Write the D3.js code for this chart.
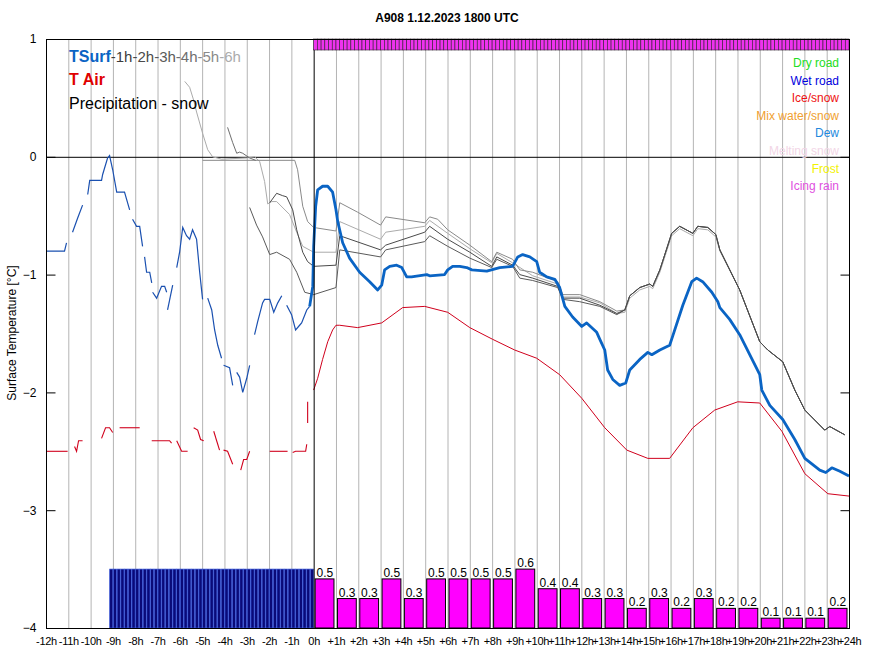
<!DOCTYPE html>
<html><head><meta charset="utf-8">
<script src="https://cdn.jsdelivr.net/npm/d3@7"></script>
<style>
body{margin:0;background:#fff}
svg{display:block}
text{font-family:"Liberation Sans",Arial,Helvetica,sans-serif}
</style>
</head><body>
<svg id="chart" width="871" height="654"></svg>
<script>
// ---------- DATA ----------
const title = "A908 1.12.2023 1800 UTC";
const yTitle = "Surface Temperature [°C]";
const tickHours = [-12,-11,-10,-9,-8,-7,-6,-5,-4,-3,-2,-1,0,1,2,3,4,5,6,7,8,9,10,11,12,13,14,15,16,17,18,19,20,21,22,23,24];
const tickLabels = ["-12h","-11h","-10h","-9h","-8h","-7h","-6h","-5h","-4h","-3h","-2h","-1h","0h","+1h","+2h","+3h","+4h","+5h","+6h","+7h","+8h","+9h","+10h","+11h","+12h","+13h","+14h","+15h","+16h","+17h","+18h","+19h","+20h","+21h","+22h","+23h","+24h"];
const yTicks = [1,0,-1,-2,-3,-4];

// measured surface temperature (segments separated by gaps) [hour, °C]
const tsurfPast = [
 [[-12,-0.80],[-11.17,-0.80],[-11.08,-0.73]],
 [[-10.81,-0.64],[-10.58,-0.52],[-10.36,-0.41]],
 [[-10.13,-0.32],[-10.04,-0.20],[-9.51,-0.20],[-9.46,-0.15],[-9.24,-0.01],[-9.15,0.01],[-9.01,-0.11],[-8.83,-0.30],[-8.48,-0.30],[-8.25,-0.45]],
 [[-8.12,-0.53],[-7.94,-0.59],[-7.80,-0.59],[-7.67,-0.76]],
 [[-7.58,-0.85],[-7.49,-0.98],[-7.35,-0.98],[-7.26,-1.07]],
 [[-7.22,-1.15],[-7.04,-1.20],[-6.82,-1.10],[-6.68,-1.10],[-6.59,-1.15]],
 [[-6.55,-1.30],[-6.32,-1.09]],
 [[-6.14,-0.94],[-6.01,-0.81],[-5.87,-0.60],[-5.70,-0.67],[-5.56,-0.70],[-5.43,-0.62],[-5.25,-0.70],[-5.11,-0.98],[-4.98,-1.21]],
 [[-4.75,-1.20],[-4.57,-1.30],[-4.44,-1.47],[-4.30,-1.60],[-4.13,-1.71]],
 [[-4.04,-1.77],[-3.77,-1.79],[-3.63,-1.94]],
 [[-3.45,-1.83],[-3.32,-1.87],[-3.18,-2.00],[-3.00,-1.88],[-2.87,-1.77]],
 [[-2.65,-1.51],[-2.51,-1.40],[-2.29,-1.24],[-2.20,-1.21],[-1.97,-1.21],[-1.79,-1.32],[-1.61,-1.24],[-1.43,-1.18]],
 [[-1.21,-1.26],[-0.99,-1.34],[-0.81,-1.47],[-0.63,-1.43],[-0.54,-1.41],[-0.31,-1.30],[-0.18,-1.27]]
];

// forecast surface temperature
const tsurfFuture = [[-0.18,-1.27],[-0.04,-1.10],[0,-0.76],[0.09,-0.42],[0.18,-0.28],[0.40,-0.25],[0.63,-0.25],[0.85,-0.30],[1.0,-0.45],[1.08,-0.55],[1.30,-0.73],[1.61,-0.86],[2.06,-0.98],[2.51,-1.06],[2.87,-1.13],[3.05,-1.09],[3.18,-0.96],[3.41,-0.93],[3.72,-0.92],[3.95,-0.94],[4.17,-1.02],[4.39,-1.02],[5.07,-1.00],[5.20,-1.01],[5.87,-1.00],[6.01,-0.96],[6.23,-0.93],[6.55,-0.93],[6.86,-0.94],[7.09,-0.96],[7.76,-0.97],[8.34,-0.94],[8.92,-0.93],[9.15,-0.85],[9.37,-0.83],[9.69,-0.85],[10.0,-0.89],[10.13,-0.98],[10.45,-1.02],[10.81,-1.04],[11.03,-1.11],[11.26,-1.27],[11.61,-1.36],[12.02,-1.44],[12.24,-1.41],[12.69,-1.49],[12.83,-1.55],[13.05,-1.64],[13.18,-1.81],[13.41,-1.89],[13.72,-1.94],[13.99,-1.92],[14.17,-1.81],[14.62,-1.72],[14.98,-1.66],[15.16,-1.68],[15.52,-1.64],[15.96,-1.60],[16.10,-1.52],[16.55,-1.26],[16.95,-1.06],[17.17,-1.03],[17.44,-1.06],[17.85,-1.15],[18.12,-1.23],[18.21,-1.28],[18.65,-1.38],[19.10,-1.51],[19.55,-1.68],[20.0,-1.85],[20.09,-1.98],[20.45,-2.11],[21.03,-2.23],[21.57,-2.40],[22.02,-2.56],[22.69,-2.66],[22.96,-2.68],[23.23,-2.64],[23.59,-2.67],[24,-2.71]];

// measured air temperature (segments)
const airPast = [
 [[-12,-2.50],[-11.03,-2.50]],
 [[-10.72,-2.46],[-10.63,-2.50],[-10.54,-2.41],[-10.36,-2.41]],
 [[-9.51,-2.39],[-9.33,-2.30],[-9.15,-2.30],[-9.01,-2.34]],
 [[-8.70,-2.30],[-7.80,-2.30]],
 [[-7.26,-2.41],[-6.46,-2.41],[-6.37,-2.43]],
 [[-6.14,-2.41],[-5.92,-2.50],[-5.65,-2.50]],
 [[-5.38,-2.30],[-5.20,-2.32],[-5.07,-2.40],[-4.93,-2.41]],
 [[-4.48,-2.33],[-4.22,-2.49]],
 [[-4.04,-2.49],[-3.86,-2.50],[-3.63,-2.61]],
 [[-3.27,-2.66],[-3.14,-2.57],[-3.00,-2.57],[-2.87,-2.50]],
 [[-1.97,-2.50],[-1.17,-2.50]],
 [[-0.94,-2.51],[-0.81,-2.50],[-0.36,-2.50],[-0.31,-2.44]],
 [[-0.27,-2.26],[-0.27,-2.08]]
];

// forecast air temperature
const airFuture = [[0,-1.98],[0.18,-1.88],[0.40,-1.72],[0.63,-1.57],[0.85,-1.47],[1.0,-1.43],[1.17,-1.43],[1.97,-1.45],[3.05,-1.41],[3.99,-1.28],[4.98,-1.27],[6.01,-1.32],[7.0,-1.45],[8.03,-1.55],[9.01,-1.64],[10.0,-1.71],[11.03,-1.85],[12.02,-2.05],[13.05,-2.30],[14.04,-2.49],[14.98,-2.56],[15.96,-2.56],[17.0,-2.30],[17.98,-2.15],[19.01,-2.08],[20.0,-2.09],[20.99,-2.33],[22.02,-2.69],[23.05,-2.86],[24,-2.88]];

// earlier forecast runs of surface temperature
const run6h = [[-5.78,0.64],[-5.56,0.59],[-5.38,0.48],[-5.25,0.38],[-4.98,0.20],[-4.75,0.06],[-4.53,0],[-4.13,-0.02],[-3.0,-0.01],[-2.65,0],[-2.42,-0.04],[-2.2,-0.21],[-2.06,-0.40],[-1.88,-0.38],[-1.66,-0.38],[-1.08,-0.49],[-0.76,-0.64],[-0.49,-0.76],[0,-0.81],[1,-0.81],[1.17,-0.55],[3,-0.70],[3.23,-0.64],[4.98,-0.59],[5.2,-0.54],[6.01,-0.65],[7,-0.78],[7.98,-0.90],[8.21,-0.82],[8.92,-0.90],[9.82,-1.01],[10.94,-1.08],[11.17,-1.19],[11.93,-1.19],[12.83,-1.24],[13.59,-1.33]];
const run5h = [[-4.98,-0.03],[-0.85,-0.03],[-0.72,-0.11],[-0.49,-0.42],[-0.27,-0.55],[0,-0.60],[1,-0.63],[1.17,-0.39],[1.97,-0.47],[3,-0.58],[3.23,-0.51],[4.98,-0.56],[5.2,-0.51],[5.56,-0.53],[6.01,-0.62],[7,-0.75],[7.98,-0.89],[8.21,-0.81],[8.92,-0.87],[9.24,-0.96],[9.82,-0.98],[10.94,-1.06],[11.17,-1.17],[11.93,-1.17],[12.83,-1.23],[13.59,-1.31]];
const run4h = [[-3.86,0.25],[-3.63,0.12],[-3.45,0.03],[-3.32,0.04],[-3.18,0.03],[-2.87,-0.01],[-2.6,-0.03]];
const run3h = [[-2.87,-0.43],[-2.56,-0.58],[-2.29,-0.68],[-1.97,-0.83],[-1.66,-0.81],[-1.08,-0.87],[-0.76,-0.98],[-0.40,-1.15],[0,-1.17],[1,-1.11],[1.17,-0.79],[3,-0.85],[3.23,-0.79],[4.98,-0.72],[5.2,-0.67],[6.01,-0.76],[7,-0.86],[7.98,-0.94],[8.21,-0.87],[8.92,-0.93],[9.24,-1.03],[9.82,-1.05],[10.94,-1.11],[11.17,-1.21],[11.93,-1.23],[12.83,-1.27],[13.59,-1.34]];
const run2h = [[-1.97,-0.39],[-1.66,-0.31],[-1.39,-0.33],[-1.21,-0.34],[-0.94,-0.45],[-0.76,-0.62],[-0.49,-0.81],[-0.27,-0.89],[0,-0.93],[1,-0.92],[1.17,-0.67],[3,-0.79],[3.23,-0.75],[4.98,-0.64],[5.2,-0.59],[6.01,-0.70],[7,-0.81],[7.98,-0.93],[8.21,-0.85],[8.92,-0.92],[9.24,-1.0],[9.82,-1.03],[10.94,-1.10],[11.17,-1.20],[11.93,-1.20],[12.83,-1.26],[13.59,-1.33]];
// later part where the runs nearly coincide (dark and light strand)
const runsTail = [[13.95,-1.30],[14.17,-1.18],[14.62,-1.11],[15.07,-1.08],[15.20,-1.10],[15.52,-0.96],[16.05,-0.65],[16.41,-0.59],[17.0,-0.65],[17.22,-0.59],[17.67,-0.60],[18.03,-0.66],[18.21,-0.79],[19.10,-1.13],[20.0,-1.57],[20.36,-1.64],[21.03,-1.74],[21.57,-1.98],[22.02,-2.15],[22.91,-2.32],[23.14,-2.29],[23.81,-2.36]];
const runsTailLight = [[13.95,-1.32],[14.17,-1.20],[14.62,-1.13],[15.07,-1.10],[15.20,-1.12],[15.52,-0.98],[16.05,-0.67],[16.41,-0.61],[17.0,-0.67],[17.22,-0.61],[17.67,-0.62],[18.03,-0.68],[18.21,-0.80],[19.10,-1.13],[20.0,-1.57],[20.36,-1.64],[21.03,-1.74],[21.57,-1.98],[22.02,-2.15],[22.91,-2.32],[23.14,-2.29],[23.81,-2.36]];

// precipitation (snow) forecast, mm per hour, for hours ending +1h..+24h
const precipHours = [1,2,3,4,5,6,7,8,9,10,11,12,13,14,15,16,17,18,19,20,21,22,23,24];
const precipValues = [0.5,0.3,0.3,0.5,0.3,0.5,0.5,0.5,0.5,0.6,0.4,0.4,0.3,0.3,0.2,0.3,0.2,0.3,0.2,0.2,0.1,0.1,0.1,0.2];
// observed snow, 10-minute steps from -9h10m to 0h
const pastSnowStart = -9.1667;
const pastSnow = [0.6,0.6,0.6,0.6,0.6,0.6,0.6,0.6,0.6,0.6,0.6,0.6,0.6,0.6,0.6,0.6,0.6,0.6,0.6,0.6,0.6,0.6,0.6,0.6,0.6,0.6,0.6,0.6,0.6,0.6,0.6,0.6,0.6,0.6,0.6,0.6,0.6,0.6,0.6,0.6,0.6,0.6,0.6,0.6,0.6,0.6,0.6,0.6,0.6,0.6,0.6,0.6,0.6,0.6,0.6];
// forecast road state per hour (each hour shown as six 10-minute cells)
const roadState = ["Icing rain","Icing rain","Icing rain","Icing rain","Icing rain","Icing rain","Icing rain","Icing rain","Icing rain","Icing rain","Icing rain","Icing rain","Icing rain","Icing rain","Icing rain","Icing rain","Icing rain","Icing rain","Icing rain","Icing rain","Icing rain","Icing rain","Icing rain","Icing rain"];

const stateNames = ["Dry road","Wet road","Ice/snow","Mix water/snow","Dew","Melting snow","Frost","Icing rain"];
const stateColors = ["#22dd22","#0000dd","#ee1111","#f0a030","#2288dd","#f2d6e6","#f2f200","#e050e0"];
const stripColors = {"Icing rain":"#ee33ee"};
const runLabels = ["-1h","-2h","-3h","-4h","-5h","-6h"];
const runColors = ["#3c3c3c","#4a4a4a","#5a5a5a","#6e6e6e","#8a8a8a","#ababab"];

// ---------- CHART ----------
const svg = d3.select("#chart");
const L = 46, R = 849, T = 39, B = 628;
const x = d3.scaleLinear().domain([-12,24]).range([L,R]);
const y = d3.scaleLinear().domain([-4,1]).range([B,T]);
const yP = d3.scaleLinear().domain([0,6]).range([B,T]);
const line = d3.line().x(d=>x(d[0])).y(d=>y(d[1]));

svg.append("rect").attr("width",871).attr("height",654).attr("fill","#fff");

// title
svg.append("text").attr("x",447).attr("y",22).attr("text-anchor","middle")
  .attr("font-size",12).attr("font-weight","bold").text(title);

// vertical hourly grid
svg.append("g").selectAll("line").data(tickHours.filter(h=>h>-12&&h<24&&h!==0)).join("line")
  .attr("x1",d=>x(d)+0.5).attr("x2",d=>x(d)+0.5).attr("y1",T).attr("y2",B)
  .attr("stroke","#b4b4b4").attr("stroke-width",1);

// zero line
svg.append("line").attr("x1",L).attr("x2",R).attr("y1",y(0)+0.5).attr("y2",y(0)+0.5)
  .attr("stroke","#000").attr("stroke-width",1);

// past snow bars
svg.append("g").selectAll("rect").data(pastSnow).join("rect")
  .attr("x",(d,i)=>x(pastSnowStart+i/6)+0.5)
  .attr("y",d=>yP(d))
  .attr("width",(d,i)=>x(pastSnowStart+(i+1)/6)-x(pastSnowStart+i/6)-0.6)
  .attr("height",d=>B-yP(d))
  .attr("fill","#0a0a78").attr("stroke","#3050d8").attr("stroke-width",0.7);

// future precipitation bars
const pb = svg.append("g");
pb.selectAll("rect").data(precipValues).join("rect")
  .attr("x",(d,i)=>x(precipHours[i]-1)+1.5)
  .attr("y",d=>yP(d))
  .attr("width",(d,i)=>x(precipHours[i])-x(precipHours[i]-1)-3.5)
  .attr("height",d=>B-yP(d))
  .attr("fill","#ff00ff").attr("stroke","#000").attr("stroke-width",1);
pb.selectAll("text").data(precipValues).join("text")
  .attr("x",(d,i)=>(x(precipHours[i]-1)+x(precipHours[i]))/2)
  .attr("y",d=>yP(d)-2)
  .attr("text-anchor","middle").attr("font-size",12).attr("fill","#000")
  .text(d=>d.toFixed(1));

// earlier runs
const runs = [
  {data: run6h.concat(runsTailLight), c: runColors[5]},
  {data: run5h.concat(runsTail), c: runColors[4]},
  {data: run4h, c: runColors[3]},
  {data: run3h.concat(runsTail), c: runColors[2]},
  {data: run2h.concat(runsTail), c: runColors[1]}
];
svg.append("g").selectAll("path").data(runs).join("path")
  .attr("d",d=>line(d.data)).attr("fill","none")
  .attr("stroke",d=>d.c).attr("stroke-width",1);

// air temperature
svg.append("g").selectAll("path").data(airPast).join("path")
  .attr("d",line).attr("fill","none").attr("stroke","#d0001c").attr("stroke-width",1.1);
svg.append("path").attr("d",line(airFuture)).attr("fill","none")
  .attr("stroke","#d0001c").attr("stroke-width",1);

// surface temperature
svg.append("g").selectAll("path").data(tsurfPast).join("path")
  .attr("d",line).attr("fill","none").attr("stroke","#1a50b0").attr("stroke-width",1.2);
svg.append("path").attr("d",line(tsurfFuture)).attr("fill","none")
  .attr("stroke","#0a64c4").attr("stroke-width",2.8).attr("stroke-linejoin","round");

// 0h line
svg.append("line").attr("x1",x(0)+0.5).attr("x2",x(0)+0.5).attr("y1",T).attr("y2",B)
  .attr("stroke","#000").attr("stroke-width",1);

// road-state strip
const cells = [];
roadState.forEach((s,i)=>{ for(let k=0;k<6;k++) cells.push({t:i+k/6, s}); });
svg.append("g").selectAll("rect").data(cells).join("rect")
  .attr("x",d=>x(d.t)).attr("y",T).attr("width",x(1/6)-x(0)).attr("height",11)
  .attr("fill",d=>stripColors[d.s] || stateColors[stateNames.indexOf(d.s)])
  .attr("stroke","#302030").attr("stroke-width",0.6);

// frame
svg.append("rect").attr("x",L+0.5).attr("y",T+0.5).attr("width",R-L).attr("height",B-T)
  .attr("fill","none").attr("stroke","#000").attr("stroke-width",1);

// axes
const yAxis = svg.append("g").attr("transform",`translate(${L+0.5},0)`)
  .call(d3.axisLeft(y).tickValues(yTicks).tickSize(-9).tickPadding(10).tickFormat(d3.format("d")));
const yAxisR = svg.append("g").attr("transform",`translate(${R+0.5},0)`)
  .call(d3.axisRight(y).tickValues(yTicks).tickSize(-9).tickFormat(""));
const xAxis = svg.append("g").attr("transform",`translate(0,${B})`)
  .call(d3.axisBottom(x).tickValues(tickHours).tickSize(0).tickPadding(9).tickFormat((d,i)=>tickLabels[i]));
[yAxis,yAxisR,xAxis].forEach(g=>{
  g.select(".domain").remove();
  g.selectAll("text").attr("font-size",12).attr("fill","#000").attr("font-family","Liberation Sans, Arial, sans-serif");
  g.selectAll("line").attr("stroke","#000");
});
xAxis.selectAll("text").attr("font-size",11).attr("letter-spacing",-0.3);

// y title
svg.append("text").attr("transform","translate(16,333) rotate(-90)").attr("text-anchor","middle")
  .attr("font-size",12).text(yTitle);

// legend top-left
const lg = svg.append("g");
const t1 = lg.append("text").attr("x",69).attr("y",62).attr("font-size",16);
t1.append("tspan").attr("font-weight","bold").attr("fill","#0a64c4").text("TSurf");
runLabels.forEach((r,i)=>t1.append("tspan").attr("font-size",15).attr("fill",runColors[i]).text(r));
lg.append("text").attr("x",69).attr("y",85).attr("font-size",16).attr("font-weight","bold")
  .attr("fill","#e00000").text("T Air");
lg.append("text").attr("x",69).attr("y",109).attr("font-size",16).attr("fill","#000")
  .text("Precipitation - snow");

// legend top-right (road states)
svg.append("g").selectAll("text").data(stateNames).join("text")
  .attr("x",839).attr("y",(d,i)=>67+i*17.6).attr("text-anchor","end")
  .attr("font-size",12).attr("fill",(d,i)=>stateColors[i]).text(d=>d);
</script>
</body></html>
